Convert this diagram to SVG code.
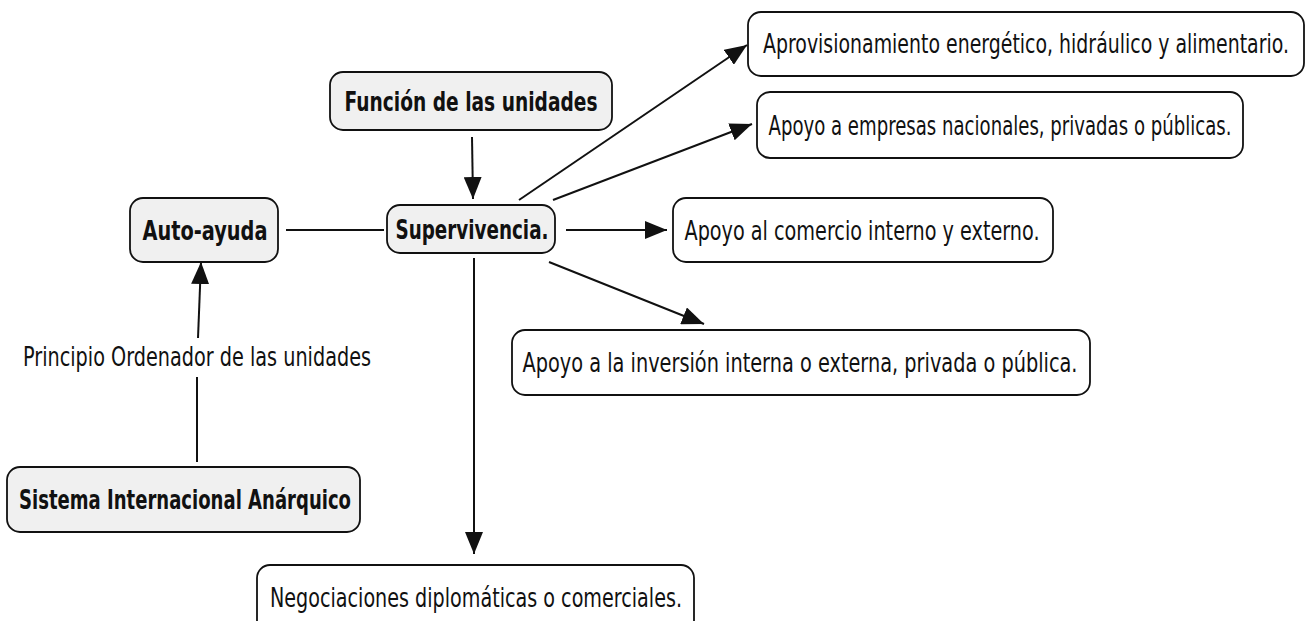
<svg xmlns="http://www.w3.org/2000/svg" width="1307" height="621" viewBox="0 0 1307 621">
<style>
.n rect{stroke:#111;stroke-width:1.8}
.g rect{fill:#f0f0f0}
.w rect{fill:#fff}
text{font-family:"DejaVu Sans","Verdana",sans-serif;font-size:26px;fill:#111;text-anchor:middle}
.b text{font-weight:bold}
.c line{stroke:#111;stroke-width:2}
</style>
<defs>
<marker id="ah2" viewBox="0 0 10 10" refX="10" refY="5" markerWidth="22" markerHeight="18" markerUnits="userSpaceOnUse" orient="auto" preserveAspectRatio="none">
<path d="M0,0 L10,5 L0,10 Z" fill="#111"/>
</marker>
</defs>
<rect width="1307" height="621" fill="#fff"/>
<g class="c">
<line x1="472" y1="137" x2="473" y2="199" marker-end="url(#ah2)"/>
<line x1="286" y1="230" x2="384" y2="230"/>
<line x1="519" y1="200" x2="747" y2="45" marker-end="url(#ah2)"/>
<line x1="553" y1="200" x2="752" y2="124" marker-end="url(#ah2)"/>
<line x1="566" y1="230" x2="667" y2="230" marker-end="url(#ah2)"/>
<line x1="549" y1="262" x2="704" y2="324" marker-end="url(#ah2)"/>
<line x1="474" y1="258" x2="474" y2="554" marker-end="url(#ah2)"/>
<line x1="197" y1="462" x2="197" y2="377"/>
<line x1="198" y1="338" x2="201" y2="262" marker-end="url(#ah2)"/>
</g>
<text x="197" y="366" textLength="348" lengthAdjust="spacingAndGlyphs">Principio Ordenador de las unidades</text>
<g id="funcion" class="n g b"><rect x="330" y="72" width="282" height="58" rx="13"/><text x="471" y="111" textLength="253" lengthAdjust="spacingAndGlyphs">Función de las unidades</text></g>
<g id="autoayuda" class="n g b"><rect x="130" y="198" width="148" height="64" rx="13"/><text x="205" y="240" textLength="125" lengthAdjust="spacingAndGlyphs">Auto-ayuda</text></g>
<g id="supervivencia" class="n g b"><rect x="387" y="205" width="168" height="48" rx="13"/><text x="472" y="239" textLength="153" lengthAdjust="spacingAndGlyphs">Supervivencia.</text></g>
<g id="sistema" class="n g b"><rect x="7" y="467" width="353" height="65" rx="13"/><text x="185" y="509" textLength="332" lengthAdjust="spacingAndGlyphs">Sistema Internacional Anárquico</text></g>
<g id="aprovisionamiento" class="n w"><rect x="748" y="12" width="556" height="64" rx="13"/><text x="1026" y="53" textLength="526" lengthAdjust="spacingAndGlyphs">Aprovisionamiento energético, hidráulico y alimentario.</text></g>
<g id="empresas" class="n w"><rect x="757" y="92" width="486" height="66" rx="13"/><text x="1000" y="135" textLength="463" lengthAdjust="spacingAndGlyphs">Apoyo a empresas nacionales, privadas o públicas.</text></g>
<g id="comercio" class="n w"><rect x="673" y="198" width="380" height="64" rx="13"/><text x="862" y="240" textLength="355" lengthAdjust="spacingAndGlyphs">Apoyo al comercio interno y externo.</text></g>
<g id="inversion" class="n w"><rect x="512" y="330" width="578" height="65" rx="13"/><text x="800" y="372" textLength="555" lengthAdjust="spacingAndGlyphs">Apoyo a la inversión interna o externa, privada o pública.</text></g>
<g id="negociaciones" class="n w"><rect x="257" y="565" width="437" height="70" rx="13"/><text x="476" y="607" textLength="412" lengthAdjust="spacingAndGlyphs">Negociaciones diplomáticas o comerciales.</text></g>
</svg>
